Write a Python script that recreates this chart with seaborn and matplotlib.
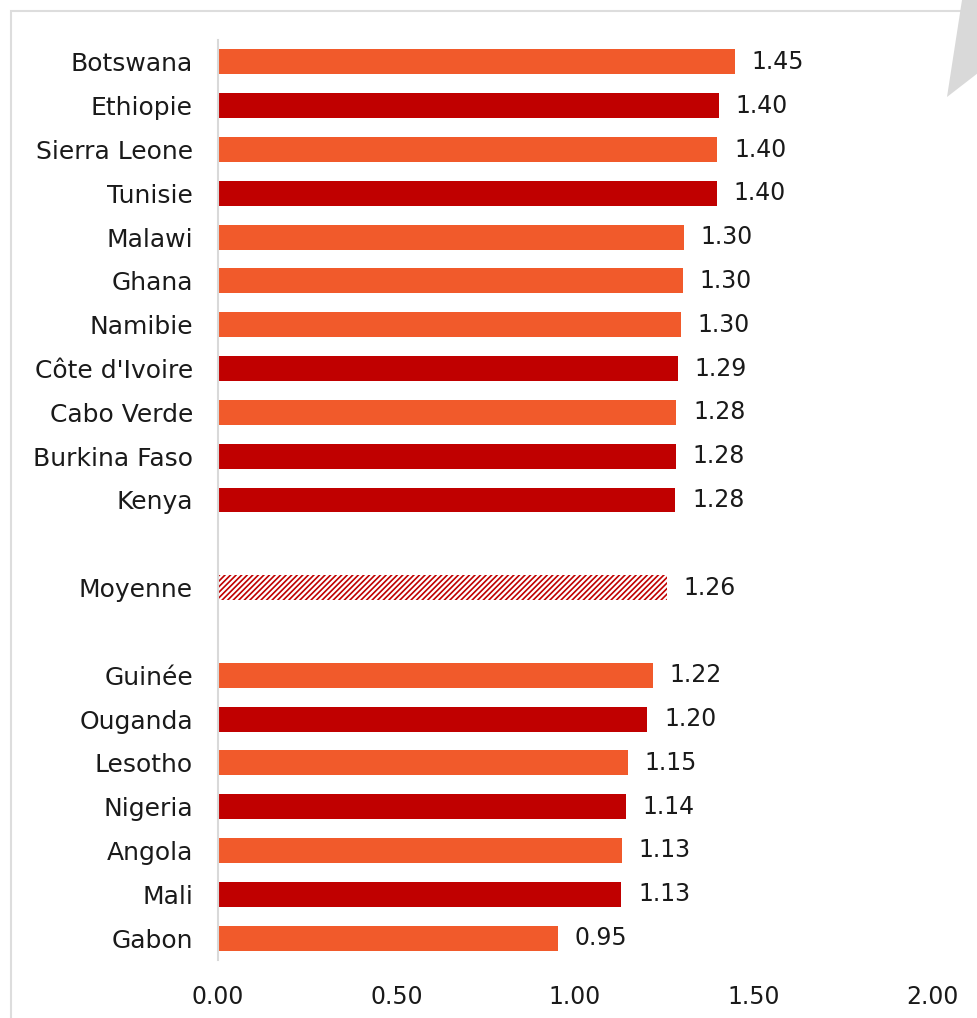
import matplotlib
matplotlib.use("Agg")
import matplotlib.pyplot as plt
import seaborn as sns
import pandas as pd
from matplotlib.patches import Polygon, Rectangle

# ---- data ----
countries = ["Botswana", "Ethiopie", "Sierra Leone", "Tunisie", "Malawi", "Ghana",
             "Namibie", "Côte d'Ivoire", "Cabo Verde", "Burkina Faso", "Kenya",
             "Moyenne",
             "Guinée", "Ouganda", "Lesotho", "Nigeria", "Angola", "Mali", "Gabon"]
values = [1.447, 1.404, 1.399, 1.398, 1.305, 1.302, 1.297, 1.289, 1.284, 1.282, 1.281,
          1.258,
          1.219, 1.203, 1.149, 1.143, 1.131, 1.130, 0.951]
labels = ["1.45", "1.40", "1.40", "1.40", "1.30", "1.30", "1.30", "1.29", "1.28", "1.28", "1.28",
          "1.26",
          "1.22", "1.20", "1.15", "1.14", "1.13", "1.13", "0.95"]
groups = ["o", "r", "o", "r", "o", "o", "o", "r", "o", "r", "r",
          "m",
          "o", "r", "o", "r", "o", "r", "o"]
order = countries[:11] + [" "] + ["Moyenne"] + ["  "] + countries[12:]
xticks = [0.0, 0.5, 1.0, 1.5, 2.0]

ORANGE = "#F15A2B"
RED = "#C00000"
group_colors = {"o": ORANGE, "r": RED, "m": "white"}

df = pd.DataFrame({"country": countries, "value": values, "label": labels, "group": groups})
palette = {c: group_colors[g] for c, g in zip(countries, groups)}

sns.set_theme(style="white")
plt.rcParams["font.family"] = ["DejaVu Sans"]
plt.rcParams["hatch.linewidth"] = 1.2
TXT = "#1a1a1a"

fig = plt.figure(figsize=(9.78, 10.18), dpi=100)
ax = fig.add_axes([218 / 978, 1 - 960 / 1018, (932 - 218) / 978, (960 - 40) / 1018])

sns.barplot(data=df, x="value", y="country", hue="country", order=order,
            palette=palette, width=0.57, legend=False, ax=ax, saturation=1,
            linewidth=0, errorbar=None)

# hatch the average bar
mi = order.index("Moyenne")
for p in ax.patches:
    cy = p.get_y() + p.get_height() / 2
    if abs(cy - mi) < 0.01:
        p.set_facecolor("white")
        p.set_edgecolor(RED)
        p.set_hatch("//////")
        p.set_linewidth(0)

# value labels
lab_map = dict(zip(countries, labels))
for cont in ax.containers:
    labs = []
    for bar in cont:
        cy = bar.get_y() + bar.get_height() / 2
        idx = int(round(cy))
        labs.append(lab_map.get(order[idx], ""))
    ax.bar_label(cont, labels=labs, padding=12, fontsize=17, color=TXT)

ax.set_xlim(0, 2.0)
ax.set_ylim(len(order) - 0.5, -0.5)
ax.set_xticks(xticks)
ax.set_xticklabels([f"{t:.2f}" for t in xticks])
ax.tick_params(axis="x", length=0, pad=18, labelsize=17, labelcolor=TXT)
ax.tick_params(axis="y", length=0, pad=18, labelsize=18, labelcolor=TXT)
ax.set_xlabel("")
ax.set_ylabel("")
for s in ["top", "right", "bottom"]:
    ax.spines[s].set_visible(False)
ax.spines["left"].set_color("#D9D9D9")
ax.spines["left"].set_linewidth(1.5)

# frame and decorative shape
W, H = 978, 1018
fig.add_artist(Rectangle((11 / W, -0.01), 1.0, (H - 11) / H + 0.01, transform=fig.transFigure,
                         fill=False, edgecolor="#DDDDDD", linewidth=1.5))
pts = [(962, 0), (978, 0), (978, 73), (947, 97)]
fig.add_artist(Polygon([(x / W, 1 - y / H) for x, y in pts], closed=True,
                       transform=fig.transFigure, facecolor="#D9D9D9", edgecolor="none"))

fig.savefig("out.png", dpi=100, facecolor="white")
